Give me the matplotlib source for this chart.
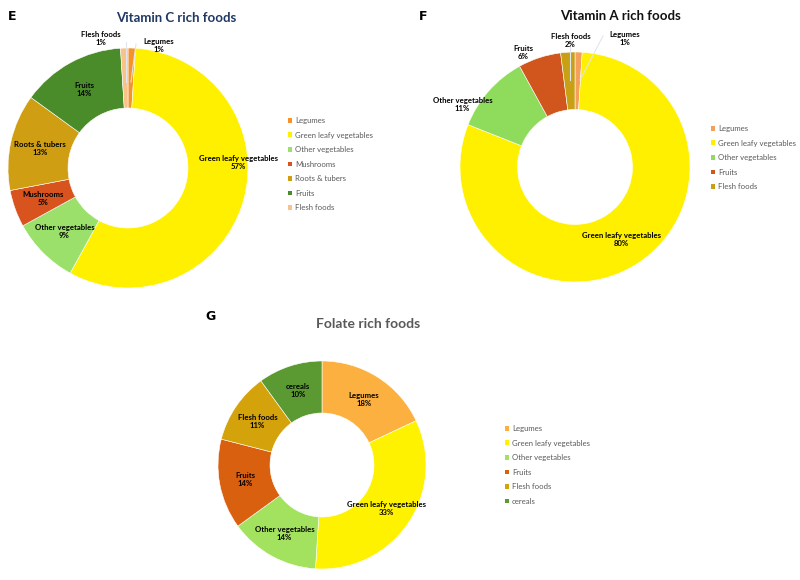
import numpy as np
import matplotlib
matplotlib.use("Agg")
import matplotlib.pyplot as plt
from matplotlib.patches import Patch

plt.rcParams['font.family'] = ['Lato', 'DejaVu Sans']

W, H = 800, 580

# ---------------- data ----------------
vitc_labels = ["Legumes", "Green leafy vegetables", "Other vegetables", "Mushrooms",
               "Roots & tubers", "Fruits", "Flesh foods"]
vitc_values = [1, 57, 9, 5, 13, 14, 1]

vita_labels = ["Legumes", "Green leafy vegetables", "Other vegetables", "Fruits", "Flesh foods"]
vita_values = [1, 80, 11, 6, 2]

fol_labels = ["Legumes", "Green leafy vegetables", "Other vegetables", "Fruits",
              "Flesh foods", "cereals"]
fol_values = [18, 33, 14, 14, 11, 10]

# ---------------- styles ----------------
vitc_colors = ['#F5922A', '#FFF000', '#9BE06B', '#D9531E', '#CF9E12', '#4A8C2A', '#F8C288']
vita_colors = ['#F4A05A', '#FFF000', '#8FDB5C', '#D0561E', '#C8A014']
fol_colors = ['#FBB040', '#FFF200', '#A3E25E', '#D9600F', '#D4A20A', '#5B9A32']

fig = plt.figure(figsize=(W / 100, H / 100), dpi=100)


def px_axes(cx, cy, r):
    return fig.add_axes([(cx - r) / W, (H - cy - r) / H, 2 * r / W, 2 * r / H])


def donut(cx, cy, r, values, labels, colors, overrides, leaders, legend_xy):
    ax = px_axes(cx, cy, r)
    wedges, _ = ax.pie(values, colors=colors, startangle=90, counterclock=False,
                       radius=1.0, wedgeprops=dict(width=0.5, edgecolor='white', linewidth=0.4))
    ax.set_xlim(-1, 1)
    ax.set_ylim(-1, 1)
    ax.axis('off')
    total = float(sum(values))
    cum = 0.0
    for v, lab in zip(values, labels):
        a0 = 90 - cum / total * 360
        a1 = 90 - (cum + v) / total * 360
        mid = (a0 + a1) / 2
        cum += v
        rr, ang = overrides.get(lab, (0.75, mid))
        tx, ty = rr * np.cos(np.radians(ang)), rr * np.sin(np.radians(ang))
        txt = f"{lab}\n{int(round(v / total * 100))}%"
        if lab in leaders:
            sx, sy, ex, ey = leaders[lab]
            ax.plot([sx, ex], [sy, ey], color='#dfe6ee', lw=0.8, clip_on=False, zorder=5)
        ax.text(tx, ty, txt, ha='center', va='center', fontsize=5.6, fontweight='bold',
                color='black', linespacing=1.15, clip_on=False, zorder=6)
    handles = [Patch(facecolor=c, edgecolor='none') for c in colors]
    fig.legend(handles, labels, loc='upper left',
               bbox_to_anchor=(legend_xy[0] / W, 1 - legend_xy[1] / H),
               frameon=False, fontsize=5.6, labelcolor='#595959',
               handlelength=0.55, handleheight=0.55, handletextpad=0.35,
               labelspacing=0.97, borderpad=0, borderaxespad=0)
    return ax


def pt(cx, cy, r, x, y):
    return ((x - cx) / r, (cy - y) / r)


# Panel E
cE = (128, 168, 120)
lE = {}
a = pt(*cE, 126, 42); b = pt(*cE, 126, 82); lE["Flesh foods"] = (*a, *b)
a = pt(*cE, 136, 44); b = pt(*cE, 131, 82); lE["Legumes"] = (*a, *b)
donut(*cE, vitc_values, vitc_labels, vitc_colors,
      {"Green leafy vegetables": (0.92, 3), "Legumes": (1.05, 76), "Flesh foods": (1.10, 102)},
      lE, (288, 117))

# Panel F
cF = (575, 167, 115)
lF = {}
a = pt(*cF, 570, 46); b = pt(*cF, 570, 80); lF["Flesh foods"] = (*a, *b)
a = pt(*cF, 603, 36); b = pt(*cF, 580, 80); lF["Legumes"] = (*a, *b)
donut(*cF, vita_values, vita_labels, vita_colors,
      {"Other vegetables": (1.12, 151), "Fruits": (1.09, 114.5),
       "Flesh foods": (1.10, 92), "Legumes": (1.2, 69)},
      lF, (711, 125))

# Panel G
cG = (322, 465, 104)
donut(*cG, fol_values, fol_labels, fol_colors, {}, {}, (505, 425))

# Titles and panel letters
fig.text(176 / W, 1 - 18 / H, "Vitamin C rich foods", ha='center', va='center',
         fontsize=9.5, fontweight='bold', color='#1F3864')
fig.text(620 / W, 1 - 16 / H, "Vitamin A rich foods", ha='center', va='center',
         fontsize=9.5, fontweight='bold', color='#111111')
fig.text(368 / W, 1 - 324 / H, "Folate rich foods", ha='center', va='center',
         fontsize=10, fontweight='bold', color='#595959')
for letter, x, y in [("E", 12, 17), ("F", 423, 17), ("G", 210, 317)]:
    fig.text(x / W, 1 - y / H, letter, ha='center', va='center', fontsize=9,
             fontweight='bold', color='black', family=['DejaVu Sans'])

fig.savefig("out.png", dpi=100)
